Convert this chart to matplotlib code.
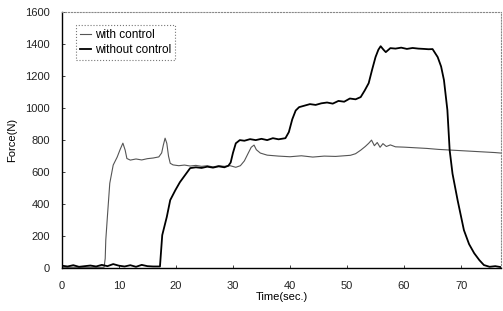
import matplotlib
matplotlib.use("Agg")
import matplotlib.pyplot as plt

plt.rcParams['font.family'] = ['Liberation Sans', 'DejaVu Sans']

# with control (thin line)
t_with = [0, 2, 4, 6, 7.4, 7.6, 7.7, 8.0, 8.4, 9.0, 9.7, 10.2, 10.7, 11.1, 11.4,
          12.0, 13.0, 14.0, 15.0, 16.0, 17.0, 17.5, 17.8, 18.1, 18.4, 18.7, 19.0,
          19.5, 20.5, 21.5, 22.5, 23.5, 24.5, 25.5, 26.5, 27.5, 28.5, 29.5, 30.5,
          31.3, 32.0, 32.7, 33.2, 33.7, 34.1, 34.8, 36, 38, 40, 42, 44, 46, 48,
          50.6, 51.5, 52.4, 53.2, 53.8, 54.3, 54.8, 55.3, 55.8, 56.3, 56.9, 57.6,
          58.5, 60, 62, 64, 66, 68, 70, 72, 74, 76, 77]
f_with = [5, 5, 5, 5, 5, 60, 175, 330, 530, 644, 694, 740, 781, 737, 685,
          675, 682, 676, 684, 688, 695, 720, 770, 812, 780, 700, 655,
          645, 640, 644, 638, 642, 636, 640, 632, 640, 636, 640, 630,
          640, 670, 720, 755, 769, 740, 719, 706, 700, 696, 702, 694, 700, 698,
          705, 715, 737, 760, 780, 800, 765, 785, 755, 778, 760, 770,
          758, 756, 752, 748, 742, 738, 734, 730, 726, 722, 719]

# without control (thick line)
t_without = [0, 1, 2, 3, 4, 5, 6, 7, 8, 9, 10, 11, 12, 13, 14, 15, 16, 17.2,
             17.6, 18.4, 19.0, 19.9, 20.7, 21.6, 22.5, 23.5, 24.5, 25.5, 26.5,
             27.5, 28.5, 29.2, 29.6, 30.0, 30.5, 31.2, 32, 33, 34, 35, 36, 37,
             38, 39.2, 39.8, 40.4, 41.0, 41.6, 42.5, 43.5, 44.5, 45.5, 46.5, 47.5,
             48.5, 49.5, 50.5, 51.5, 52.4, 53.1, 53.8, 54.4, 55.0, 55.5, 55.9,
             56.4, 56.8, 57.6, 58.5, 59.5, 60.5, 61.5, 62.5, 63.5, 64.3, 65.0,
             65.9, 66.5, 67.0, 67.6, 68.0, 68.5, 69.4, 70.5, 71.4, 72.3, 73.2,
             74.0, 75, 76, 77]
f_without = [15, 10, 18, 8, 12, 16, 10, 20, 12, 25, 15, 10, 18, 8, 20, 12, 10, 10,
             206, 320, 425, 487, 537, 581, 625, 630, 626, 634, 628,
             636, 630, 640, 660, 720, 780, 800, 796, 806, 800, 808, 800, 812,
             805, 812, 850, 930, 985, 1006, 1015, 1025, 1020, 1030, 1035, 1028,
             1045, 1040, 1060, 1055, 1069, 1110, 1156, 1240, 1319, 1365, 1387,
             1365, 1350, 1375, 1372, 1378, 1370, 1376, 1372, 1370, 1368, 1369,
             1319, 1260, 1175, 988, 737, 590, 423, 237, 150, 93, 50,
             19, 8, 12, 6]

x_ticks = [0, 10, 20, 30, 40, 50, 60, 70]
y_ticks = [0, 200, 400, 600, 800, 1000, 1200, 1400, 1600]

fig = plt.figure(figsize=(5.03, 3.11), dpi=100)
ax = fig.add_axes([0.123, 0.138, 0.873, 0.823])

ax.plot(t_with, f_with, color='#555555', lw=0.8, label='with control')
ax.plot(t_without, f_without, color='black', lw=1.3, label='without control')

ax.set_xlim(0, 77)
ax.set_ylim(0, 1600)
ax.set_xticks(x_ticks)
ax.set_yticks(y_ticks)
ax.tick_params(direction='in', length=2, width=0.6, labelsize=8, colors='#222222')
ax.tick_params(axis='y', pad=8.5)
ax.tick_params(axis='x', pad=9)

for s in ['top', 'right']:
    ax.spines[s].set_linestyle(':')
    ax.spines[s].set_color('#888888')
    ax.spines[s].set_linewidth(0.8)
for s in ['left', 'bottom']:
    ax.spines[s].set_color('black')
    ax.spines[s].set_linewidth(1.0)

ax.set_xlabel('Time(sec.)', fontsize=8, labelpad=1)
ax.set_ylabel('Force(N)', fontsize=8, labelpad=6)

leg = ax.legend(loc='upper left', bbox_to_anchor=(0.033, 0.95), fontsize=8.5,
                frameon=True, fancybox=False, handlelength=0.9, handletextpad=0.3,
                borderpad=0.35, labelspacing=0.25, borderaxespad=0)
fr = leg.get_frame()
fr.set_linestyle(':')
fr.set_edgecolor('#555555')
fr.set_linewidth(0.8)

fig.savefig('out.png', dpi=100)
